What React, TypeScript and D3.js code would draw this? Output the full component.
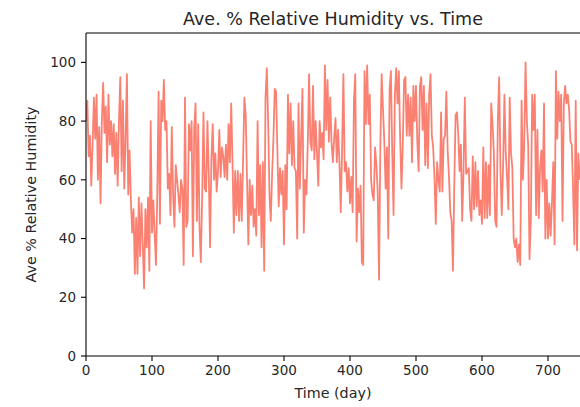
import React from 'react';
import * as d3 from 'd3';

// average relative humidity (%), one reading every DAY_STEP days starting at day 0
const DAY_STEP = 2;
const humidity = [
  // days 0-68
  80, 87, 68, 75, 58, 72, 88, 74, 89, 60, 78, 52, 80, 93, 76, 85, 66, 89, 72, 80,
  68, 79, 62, 76, 58, 80, 95, 63, 87, 57, 74, 96, 55, 70, 53,
  // days 70-138
  42, 50, 28, 47, 28, 54, 34, 52, 38, 23, 50, 37, 54, 29, 80, 42, 53, 42, 31, 55,
  90, 45, 87, 80, 94, 77, 80, 57, 62, 48, 78, 55, 44, 65, 60,
  // days 140-208
  55, 49, 60, 57, 31, 88, 44, 46, 79, 70, 80, 34, 78, 86, 46, 79, 44, 32, 54, 83,
  57, 56, 80, 62, 37, 67, 79, 60, 69, 56, 63, 77, 61, 71, 68,
  // days 210-278
  61, 72, 60, 79, 66, 86, 66, 42, 63, 48, 63, 46, 62, 46, 67, 88, 82, 60, 38, 60,
  48, 58, 44, 50, 41, 80, 48, 65, 37, 66, 29, 88, 98, 80, 55,
  // days 280-346
  46, 62, 74, 91, 90, 70, 51, 64, 55, 63, 38, 65, 50, 89, 69, 86, 65, 80, 64, 63,
  40, 86, 57, 75, 91, 42, 60, 55, 72, 96, 73, 70, 92, 67,
  // days 348-416
  80, 69, 58, 80, 71, 76, 67, 99, 77, 94, 73, 88, 73, 66, 74, 81, 66, 77, 66, 49,
  70, 96, 63, 66, 56, 64, 52, 61, 49, 87, 96, 39, 57, 49, 58,
  // days 418-486
  32, 31, 97, 79, 99, 79, 89, 60, 55, 53, 71, 65, 56, 26, 72, 96, 84, 73, 57, 71,
  40, 91, 97, 69, 48, 89, 98, 86, 97, 74, 57, 72, 94, 95, 75,
  // days 488-554
  89, 75, 88, 66, 92, 80, 92, 73, 63, 92, 95, 77, 92, 65, 86, 64, 89, 96, 75, 71,
  61, 45, 66, 60, 56, 83, 56, 74, 75, 90, 70, 61, 49, 46,
  // days 556-626
  29, 58, 82, 83, 76, 63, 72, 46, 63, 88, 62, 63, 64, 50, 46, 68, 50, 66, 51, 63,
  48, 53, 45, 71, 47, 66, 47, 65, 48, 86, 79, 69, 46, 44, 80, 95,
  // days 628-696
  63, 48, 65, 89, 69, 61, 50, 88, 69, 64, 40, 37, 40, 32, 38, 31, 87, 60, 72, 100,
  80, 72, 33, 46, 89, 77, 89, 48, 77, 47, 64, 70, 56, 86, 40,
  // days 698-748
  60, 40, 52, 41, 52, 66, 38, 97, 74, 90, 80, 89, 46, 86, 92, 86, 89, 84, 73, 72,
  57, 38, 87, 36, 69, 60,
];

const xTicks = [0, 100, 200, 300, 400, 500, 600, 700];
const yTicks = [0, 20, 40, 60, 80, 100];

const title = 'Ave. % Relative Humidity vs. Time';
const xLabel = 'Time (day)';
const yLabel = 'Ave % Relative Humidity';

export default function App() {
  const width = 580;
  const height = 407;
  const left = 86;
  const right = 580;
  const top = 33;
  const bottom = 356;

  const x = d3.scaleLinear().domain([0, 748.5]).range([left, right]);
  const y = d3.scaleLinear().domain([0, 110]).range([bottom, top]);

  const line = d3
    .line<number>()
    .x((d, i) => x(i * DAY_STEP))
    .y((d) => y(d));

  const font = '"DejaVu Sans", sans-serif';
  const textColor = '#262626';

  return (
    <svg
      width={width}
      height={height}
      style={{ position: 'absolute', left: 0, top: 0, background: '#fff' }}
      fontFamily={font}
    >
      <defs>
        <clipPath id="plot-clip">
          <rect x={left} y={top} width={right - left + 2} height={bottom - top} />
        </clipPath>
      </defs>

      <path
        d={line(humidity) || ''}
        fill="none"
        stroke="#fa8072"
        strokeWidth={1.8}
        strokeLinejoin="round"
        clipPath="url(#plot-clip)"
      />

      {/* spines */}
      <line x1={left} x2={left} y1={top} y2={bottom} stroke="#000" strokeWidth={1.1} />
      <line x1={left} x2={right + 2} y1={bottom} y2={bottom} stroke="#000" strokeWidth={1.1} />
      <line x1={left} x2={right + 2} y1={top} y2={top} stroke="#000" strokeWidth={1.1} />

      {/* x ticks */}
      {xTicks.map((t) => (
        <g key={'x' + t} transform={`translate(${x(t)},${bottom})`}>
          <line y1={0} y2={5} stroke="#000" strokeWidth={1.1} />
          <text y={19} textAnchor="middle" fontSize={13.5} fill={textColor}>
            {t}
          </text>
        </g>
      ))}

      {/* y ticks */}
      {yTicks.map((t) => (
        <g key={'y' + t} transform={`translate(${left},${y(t)})`}>
          <line x1={0} x2={-5} stroke="#000" strokeWidth={1.1} />
          <text x={-10} dy="0.35em" textAnchor="end" fontSize={13.5} fill={textColor}>
            {t}
          </text>
        </g>
      ))}

      <text x={(left + right) / 2} y={25} textAnchor="middle" fontSize={17.5} fill={textColor}>
        {title}
      </text>
      <text x={(left + right) / 2} y={398} textAnchor="middle" fontSize={14.3} fill={textColor}>
        {xLabel}
      </text>
      <text
        transform={`translate(36,${(top + bottom) / 2}) rotate(-90)`}
        textAnchor="middle"
        fontSize={14.3}
        fill={textColor}
      >
        {yLabel}
      </text>
    </svg>
  );
}
